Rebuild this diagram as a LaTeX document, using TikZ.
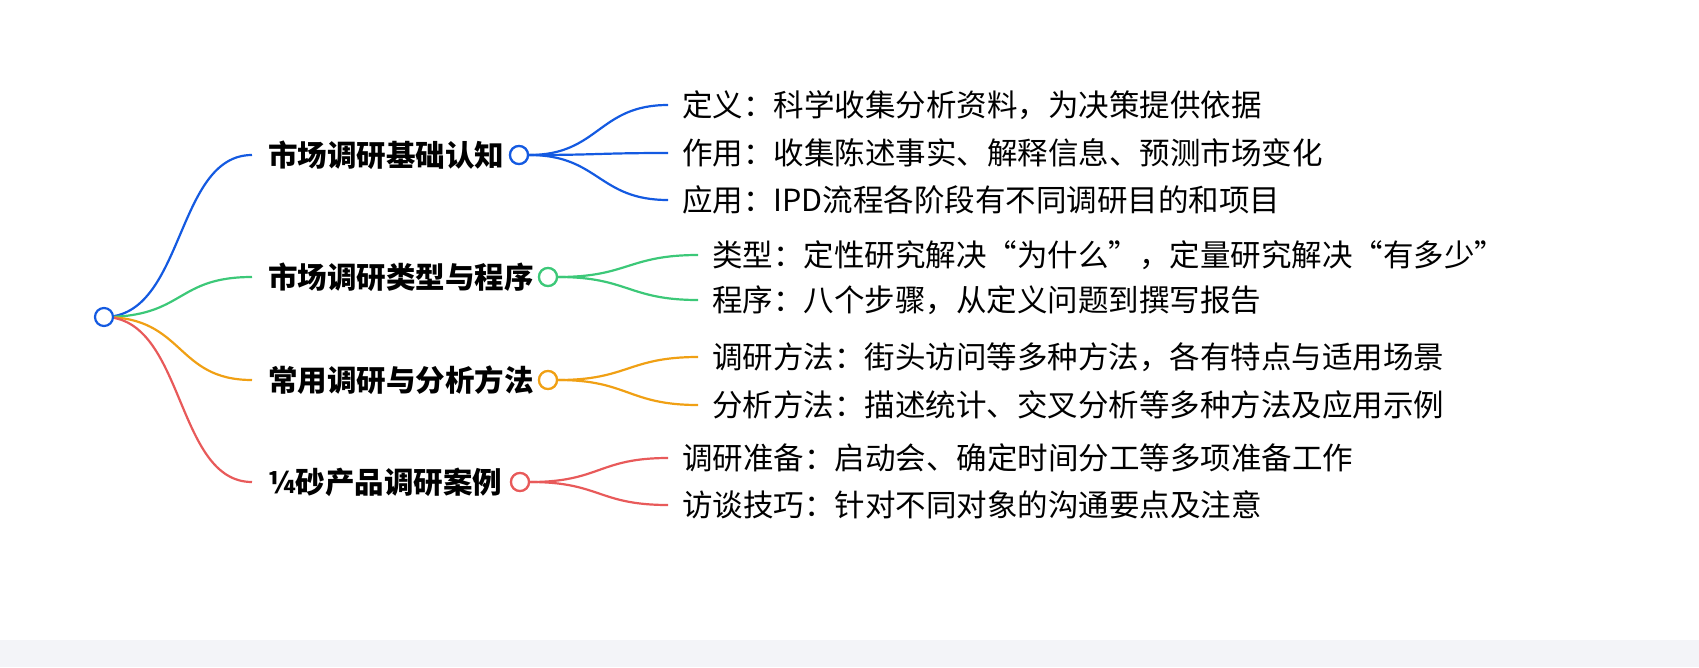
\documentclass[tikz,border=0pt]{standalone}
\usepackage{fontspec}
\setmainfont{Noto Sans CJK SC}
\begin{document}
\begin{tikzpicture}[x=1pt,y=-1pt,
  ln/.style={line width=2.2pt},
  dot/.style={circle,draw,line width=2.2pt,fill=white,minimum size=18pt,inner sep=0pt},
  br/.style={anchor=west,font=\fontsize{29.5}{34}\selectfont\bfseries,inner sep=0pt},
  lf/.style={anchor=west,font=\fontsize{30.5}{35}\selectfont,inner sep=0pt}]
\definecolor{cb}{RGB}{20,90,225}
\definecolor{cg}{RGB}{60,200,120}
\definecolor{co}{RGB}{240,160,20}
\definecolor{cr}{RGB}{232,90,90}
\useasboundingbox (0,0) rectangle (1699,667);
\fill[fill={rgb,255:red,243;green,244;blue,248}] (0,640) rectangle (1699,667);
\coordinate (r) at (104,317);
% branches
\foreach \n/\y/\c/\t/\cx in {1/155/cb/市场调研基础认知/519,2/277/cg/市场调研类型与程序/548,3/380/co/常用调研与分析方法/548,4/482/cr/¼砂产品调研案例/520}{
  \coordinate (b\n) at (252,\y);
  \node[br] (t\n) at (268,\y) {\t};
  \draw[ln,\c] (r) .. controls (185,317) and (175,\y) .. (b\n);
  \node[dot,draw=\c] (c\n) at (\cx,\y) {};
}
\node[dot,draw=cb] (root) at (r) {};
% leaves
\foreach \p/\y/\c/\x/\t in {
 1/105/cb/668/定义：科学收集分析资料，为决策提供依据,
 1/153/cb/668/作用：收集陈述事实、解释信息、预测市场变化,
 1/200/cb/668/应用：IPD流程各阶段有不同调研目的和项目,
 2/255/cg/698/类型：定性研究解决“为什么”，定量研究解决“有多少”,
 2/300/cg/698/程序：八个步骤，从定义问题到撰写报告,
 3/357/co/698/调研方法：街头访问等多种方法，各有特点与适用场景,
 3/405/co/698/分析方法：描述统计、交叉分析等多种方法及应用示例,
 4/458/cr/668/调研准备：启动会、确定时间分工等多项准备工作,
 4/505/cr/668/访谈技巧：针对不同对象的沟通要点及注意}{
  \coordinate (e) at (\x,\y);
  \node[lf] (l) at (\x+14,\y) {\t};
  \draw[ln,\c] (c\p.east) .. controls +(70,0) and +(-70,0) .. (e);
}
\foreach \n/\c in {1/cb,2/cg,3/co,4/cr}{\node[dot,draw=\c] at (c\n) {};}
\end{tikzpicture}
\end{document}
